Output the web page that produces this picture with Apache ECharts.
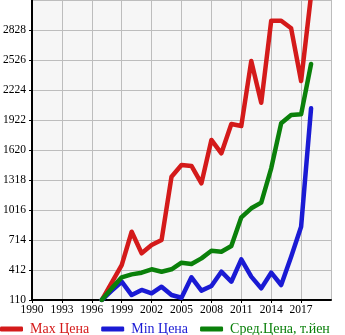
<!DOCTYPE html>
<html>
<head>
<meta charset="utf-8">
<script src="https://cdn.jsdelivr.net/npm/echarts@6/dist/echarts.min.js"></script>
<style>
  html, body { margin: 0; padding: 0; background: #fff; }
  #chart { width: 345px; height: 335px; }
</style>
</head>
<body>
<div id="chart"></div>
<script>
// Price history by model year (thousand yen)
const years = [1997, 1998, 1999, 2000, 2001, 2002, 2003, 2004, 2005, 2006, 2007,
               2008, 2009, 2010, 2011, 2012, 2013, 2014, 2015, 2016, 2017, 2018];
const maxPrice = [110, 284, 462, 797, 580, 664, 714, 1351, 1469, 1459, 1285,
                  1721, 1587, 1882, 1862, 2516, 2096, 2922, 2922, 2845, 2315, 3180];
const minPrice = [110, 204, 294, 160, 211, 177, 244, 160, 133, 338, 204,
                  251, 395, 294, 519, 345, 227, 385, 261, 546, 848, 2040];
const avgPrice = [110, 227, 338, 368, 385, 419, 395, 419, 486, 472, 529,
                  606, 596, 654, 942, 1033, 1090, 1436, 1889, 1972, 1979, 2486];

const seriesNames = ['Max Цена', 'Min Цена', 'Сред.Цена, т.йен'];
const seriesColors = ['#d41a1a', '#1a1ad4', '#0a800a'];

const pairs = arr => years.map((y, i) => [y, arr[i]]);

const chart = echarts.init(document.getElementById('chart'), null, { renderer: 'canvas' });

const font = 'Liberation Serif';

chart.setOption({
  animation: false,
  backgroundColor: '#ffffff',
  grid: { left: 31, right: 14, top: 0, bottom: 35, show: true, backgroundColor: '#f6f6f6', borderWidth: 0 },
  legend: {
    left: 0,
    top: 322,
    padding: 0,
    itemWidth: 23,
    itemHeight: 5,
    itemGap: 12,
    icon: 'roundRect',
    data: seriesNames.map((n, i) => ({ name: n, textStyle: { color: seriesColors[i] } })),
    textStyle: { fontFamily: font, fontSize: 14, padding: [0, 0, 0, 2] }
  },
  xAxis: {
    type: 'value',
    min: 1990,
    max: 2020,
    interval: 3,
    axisLine: { lineStyle: { color: '#000', width: 2 } },
    axisTick: { show: true, length: 3, lineStyle: { color: '#000', width: 1 } },
    splitLine: { show: true, lineStyle: { color: '#bdbdbd', width: 1 } },
    axisLabel: { showMaxLabel: false, color: '#000', fontFamily: font, fontSize: 11.5, margin: 4,
                 formatter: v => String(v) }
  },
  yAxis: {
    type: 'value',
    min: 110,
    max: 3130,
    interval: 302,
    axisLine: { show: true, lineStyle: { color: '#000', width: 2 } },
    axisTick: { show: true, length: 3, lineStyle: { color: '#000', width: 1 } },
    splitLine: { show: true, lineStyle: { color: '#bdbdbd', width: 1 } },
    axisLabel: { showMaxLabel: false, color: '#000', fontFamily: font, fontSize: 11.5, margin: 6,
                 formatter: v => String(v) }
  },
  series: [maxPrice, minPrice, avgPrice].map((arr, i) => ({
    name: seriesNames[i],
    type: 'line',
    data: pairs(arr),
    symbol: 'none',
    clip: true,
    color: seriesColors[i],
    lineStyle: { width: 4.5, color: seriesColors[i], cap: 'round', join: 'round' }
  }))
});
</script>
</body>
</html>
